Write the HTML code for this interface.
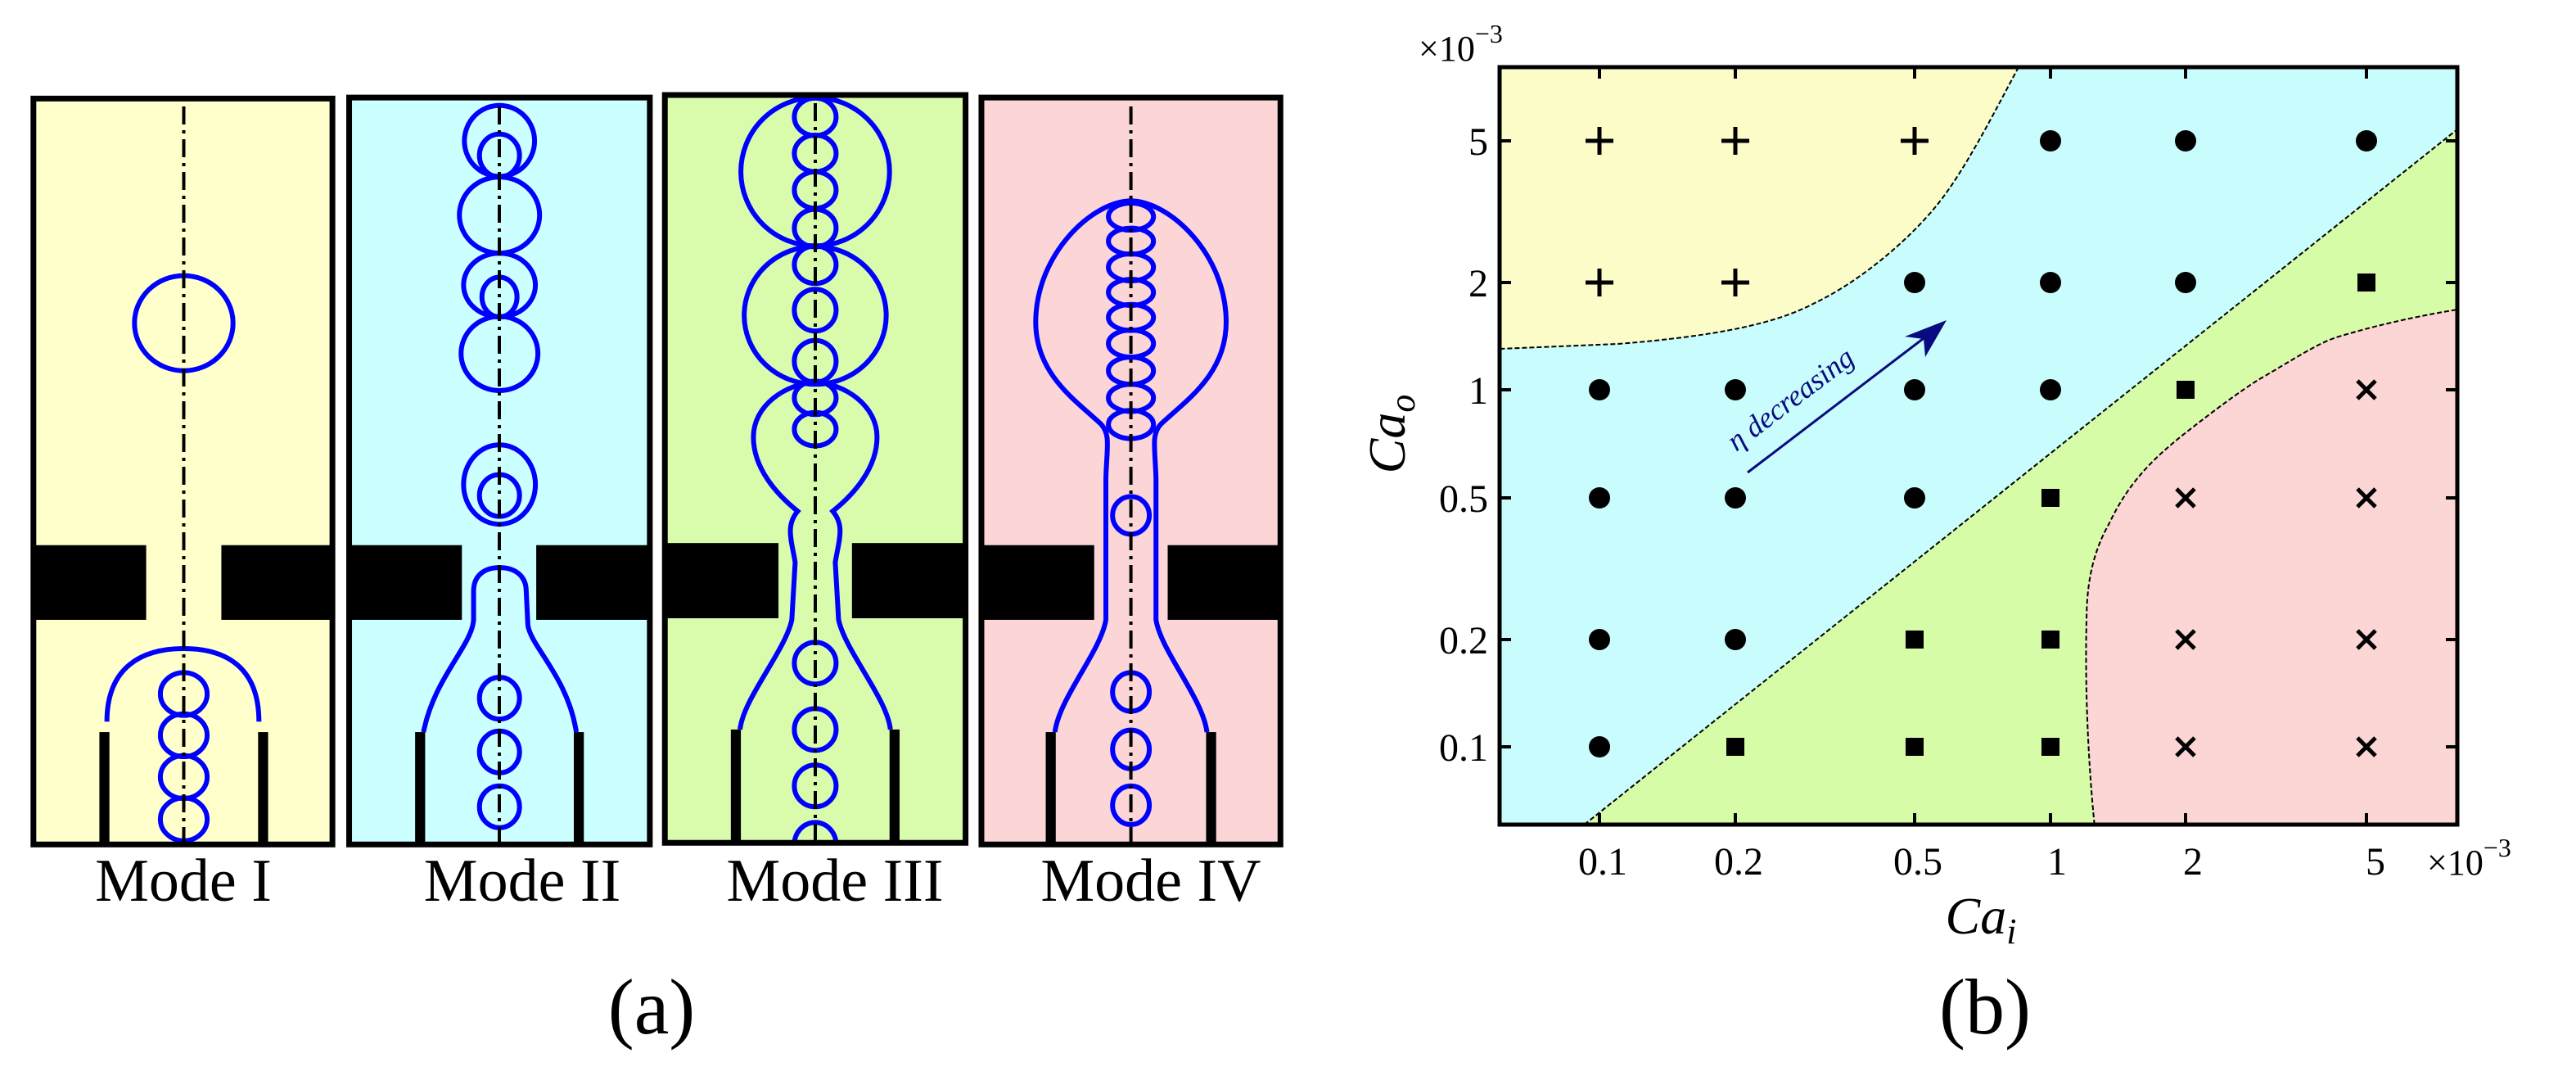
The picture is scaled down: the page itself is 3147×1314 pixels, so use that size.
<!DOCTYPE html>
<html><head><meta charset="utf-8"><style>
html,body{margin:0;padding:0;background:#fff;}
svg{display:block;}
text{font-family:"Liberation Serif",serif;}
</style></head><body>
<svg width="3147" height="1314" viewBox="0 0 3147 1314" xmlns="http://www.w3.org/2000/svg">
<defs>
<clipPath id="c3"><rect x="796" y="25" width="360" height="1435"/></clipPath>
</defs>
<g transform="translate(0,100) scale(1.0204,0.6378)">
  <rect x="40" y="32" width="358" height="1428" fill="#ffffcc"/>
  <rect x="418" y="30" width="360" height="1430" fill="#ccffff"/>
  <rect x="796" y="25" width="360" height="1432" fill="#d8fcab"/>
  <rect x="1175" y="30" width="358" height="1430" fill="#fcd6d6"/>
  <g fill="#000">
    <rect x="40" y="887" width="135" height="143"/><rect x="265" y="887" width="133" height="143"/>
    <rect x="418" y="887" width="135" height="143"/><rect x="642" y="887" width="136" height="143"/>
    <rect x="796" y="883" width="136" height="144"/><rect x="1020" y="883" width="136" height="144"/>
    <rect x="1175" y="887" width="135" height="143"/><rect x="1398" y="887" width="135" height="143"/>
    <rect x="119" y="1245" width="12" height="215"/><rect x="309" y="1245" width="12" height="215"/>
    <rect x="497" y="1245" width="12" height="215"/><rect x="687" y="1245" width="12" height="215"/>
    <rect x="875" y="1240" width="12" height="217"/><rect x="1065" y="1240" width="12" height="217"/>
    <rect x="1252" y="1245" width="12" height="215"/><rect x="1444" y="1245" width="12" height="215"/>
  </g>
  <g fill="none" stroke="#0000ff" stroke-width="6">
    <ellipse cx="220" cy="462" rx="59" ry="91" vector-effect="non-scaling-stroke"/>
    <path d="M128,1225 C128,1120 170,1085 220,1085 C270,1085 310,1120 310,1225" vector-effect="non-scaling-stroke"/>
    <ellipse cx="220" cy="1172" rx="28" ry="41" vector-effect="non-scaling-stroke"/>
    <ellipse cx="220" cy="1251" rx="28" ry="41" vector-effect="non-scaling-stroke"/>
    <ellipse cx="220" cy="1331" rx="28" ry="41" vector-effect="non-scaling-stroke"/>
    <ellipse cx="220" cy="1412" rx="28" ry="41" vector-effect="non-scaling-stroke"/>
    <ellipse cx="598" cy="113" rx="42" ry="68" vector-effect="non-scaling-stroke"/>
    <ellipse cx="598" cy="141" rx="24" ry="41" vector-effect="non-scaling-stroke"/>
    <ellipse cx="598" cy="255" rx="48" ry="73" vector-effect="non-scaling-stroke"/>
    <ellipse cx="598" cy="389" rx="43" ry="61" vector-effect="non-scaling-stroke"/>
    <ellipse cx="598" cy="412" rx="21" ry="38" vector-effect="non-scaling-stroke"/>
    <ellipse cx="598" cy="520" rx="46" ry="71" vector-effect="non-scaling-stroke"/>
    <ellipse cx="598" cy="771" rx="43" ry="76" vector-effect="non-scaling-stroke"/>
    <ellipse cx="598" cy="792" rx="24" ry="40" vector-effect="non-scaling-stroke"/>
    <ellipse cx="598" cy="1180" rx="24" ry="40" vector-effect="non-scaling-stroke"/>
    <ellipse cx="598" cy="1283" rx="24" ry="40" vector-effect="non-scaling-stroke"/>
    <ellipse cx="598" cy="1388" rx="24" ry="40" vector-effect="non-scaling-stroke"/>
    <path d="M507,1245 C520,1140 565,1080 567,1030 L567,975 C567,945 580,930 598,930 C616,930 630,945 630,975 L632,1040 C635,1080 680,1140 690,1245" vector-effect="non-scaling-stroke"/>
    <g clip-path="url(#c3)">
    <ellipse cx="976" cy="172" rx="89" ry="142" vector-effect="non-scaling-stroke"/>
    <ellipse cx="976" cy="447" rx="85" ry="132" vector-effect="non-scaling-stroke"/>
    <ellipse cx="976" cy="67" rx="25" ry="36" vector-effect="non-scaling-stroke"/>
    <ellipse cx="976" cy="137" rx="25" ry="35" vector-effect="non-scaling-stroke"/>
    <ellipse cx="976" cy="207" rx="25" ry="35" vector-effect="non-scaling-stroke"/>
    <ellipse cx="976" cy="280" rx="25" ry="36" vector-effect="non-scaling-stroke"/>
    <ellipse cx="976" cy="350" rx="25" ry="36" vector-effect="non-scaling-stroke"/>
    <ellipse cx="976" cy="437" rx="25" ry="40" vector-effect="non-scaling-stroke"/>
    <ellipse cx="976" cy="535" rx="25" ry="40" vector-effect="non-scaling-stroke"/>
    <ellipse cx="976" cy="605" rx="25" ry="32" vector-effect="non-scaling-stroke"/>
    <ellipse cx="976" cy="665" rx="25" ry="32" vector-effect="non-scaling-stroke"/>
    <ellipse cx="976" cy="1113" rx="25" ry="40" vector-effect="non-scaling-stroke"/>
    <ellipse cx="976" cy="1240" rx="25" ry="40" vector-effect="non-scaling-stroke"/>
    <ellipse cx="976" cy="1348" rx="25" ry="40" vector-effect="non-scaling-stroke"/>
    <ellipse cx="976" cy="1460" rx="25" ry="42" vector-effect="non-scaling-stroke"/>
    </g>
    <path d="M886,1240 C890,1180 940,1090 948,1030 L952,920 C948,880 940,850 955,822 C930,790 902,740 902,680 C902,620 940,578 976,575 C1012,578 1050,620 1050,680 C1050,740 1022,790 997,822 C1012,850 1004,880 1000,920 L1004,1030 C1012,1090 1062,1180 1066,1240" vector-effect="non-scaling-stroke"/>
    <path d="M1263,1245 C1268,1180 1318,1090 1324,1030 L1324,760 C1325,700 1330,675 1318,655 C1288,610 1240,560 1240,460 C1240,330 1308,228 1354,228 C1400,228 1468,330 1468,460 C1468,560 1420,610 1390,655 C1378,675 1383,700 1384,760 L1384,1030 C1390,1090 1440,1180 1445,1245" vector-effect="non-scaling-stroke"/>
    <ellipse cx="1354" cy="258" rx="27" ry="26" vector-effect="non-scaling-stroke"/>
    <ellipse cx="1354" cy="305" rx="27" ry="25" vector-effect="non-scaling-stroke"/>
    <ellipse cx="1354" cy="355" rx="27" ry="26" vector-effect="non-scaling-stroke"/>
    <ellipse cx="1354" cy="403" rx="27" ry="25" vector-effect="non-scaling-stroke"/>
    <ellipse cx="1354" cy="451" rx="27" ry="25" vector-effect="non-scaling-stroke"/>
    <ellipse cx="1354" cy="501" rx="27" ry="26" vector-effect="non-scaling-stroke"/>
    <ellipse cx="1354" cy="553" rx="27" ry="26" vector-effect="non-scaling-stroke"/>
    <ellipse cx="1354" cy="605" rx="27" ry="26" vector-effect="non-scaling-stroke"/>
    <ellipse cx="1354" cy="656" rx="27" ry="27" vector-effect="non-scaling-stroke"/>
    <ellipse cx="1354" cy="830" rx="22" ry="36" vector-effect="non-scaling-stroke"/>
    <ellipse cx="1354" cy="1168" rx="22" ry="37" vector-effect="non-scaling-stroke"/>
    <ellipse cx="1354" cy="1278" rx="22" ry="37" vector-effect="non-scaling-stroke"/>
    <ellipse cx="1354" cy="1385" rx="22" ry="37" vector-effect="non-scaling-stroke"/>
  </g>
  <g fill="none" stroke="#000" stroke-width="7">
    <rect x="40" y="32" width="358" height="1428" vector-effect="non-scaling-stroke"/>
    <rect x="418" y="30" width="360" height="1430" vector-effect="non-scaling-stroke"/>
    <rect x="796" y="25" width="360" height="1432" vector-effect="non-scaling-stroke"/>
    <rect x="1175" y="30" width="358" height="1430" vector-effect="non-scaling-stroke"/>
  </g>
</g>
<g stroke="#000" stroke-width="4" stroke-dasharray="22 7 4 7" fill="none">
  <line x1="224.5" y1="130" x2="224.5" y2="1028"/>
  <line x1="610" y1="130" x2="610" y2="1028"/>
  <line x1="996" y1="126" x2="996" y2="1026"/>
  <line x1="1381.6" y1="130" x2="1381.6" y2="1028"/>
</g>
<g font-size="74" text-anchor="middle" fill="#000">
  <text x="224" y="1100">Mode I</text>
  <text x="638" y="1100">Mode II</text>
  <text x="1020" y="1100">Mode III</text>
  <text x="1406" y="1100">Mode IV</text>
</g>
<text x="796" y="1262" font-size="96" text-anchor="middle">(a)</text>

<rect x="1832" y="82" width="1170" height="925" fill="#c9fcfc"/>
<path d="M1832,82 L2466,82 C2440,130 2400,210 2365,252 C2330,295 2270,345 2217,370 C2170,395 2100,410 1977,420 L1832,426 Z" fill="#fcfcc8"/>
<path d="M1935.5,1007 L3002,158 L3002,1007 Z" fill="#d6fca8"/>
<path d="M2558.7,1007 C2552,940 2546,840 2549.5,739.5 C2552,690 2565,660 2577,638.7 C2600,590 2630,560 2669.5,529 C2700,505 2740,475 2762,462 C2800,440 2830,420 2854,412 C2910,395 2960,385 3002,378 L3002,1007 Z" fill="#fcd5d5"/>
<g fill="none" stroke="#000" stroke-width="2" stroke-dasharray="6 3">
  <path d="M2466,82 C2440,130 2400,210 2365,252 C2330,295 2270,345 2217,370 C2170,395 2100,410 1977,420 L1832,426"/>
  <path d="M1935.5,1007 L3002,158"/>
  <path d="M2558.7,1007 C2552,940 2546,840 2549.5,739.5 C2552,690 2565,660 2577,638.7 C2600,590 2630,560 2669.5,529 C2700,505 2740,475 2762,462 C2800,440 2830,420 2854,412 C2910,395 2960,385 3002,378"/>
</g>
<g stroke="#000" stroke-width="4">
  <line x1="1954" y1="82" x2="1954" y2="96"/><line x1="2120" y1="82" x2="2120" y2="96"/><line x1="2339" y1="82" x2="2339" y2="96"/><line x1="2505" y1="82" x2="2505" y2="96"/><line x1="2670" y1="82" x2="2670" y2="96"/><line x1="2891" y1="82" x2="2891" y2="96"/>
  <line x1="1954" y1="1007" x2="1954" y2="993"/><line x1="2120" y1="1007" x2="2120" y2="993"/><line x1="2339" y1="1007" x2="2339" y2="993"/><line x1="2505" y1="1007" x2="2505" y2="993"/><line x1="2670" y1="1007" x2="2670" y2="993"/><line x1="2891" y1="1007" x2="2891" y2="993"/>
  <line x1="1832" y1="172" x2="1846" y2="172"/><line x1="1832" y1="345" x2="1846" y2="345"/><line x1="1832" y1="476" x2="1846" y2="476"/><line x1="1832" y1="608" x2="1846" y2="608"/><line x1="1832" y1="781" x2="1846" y2="781"/><line x1="1832" y1="912" x2="1846" y2="912"/>
  <line x1="3002" y1="172" x2="2988" y2="172"/><line x1="3002" y1="345" x2="2988" y2="345"/><line x1="3002" y1="476" x2="2988" y2="476"/><line x1="3002" y1="608" x2="2988" y2="608"/><line x1="3002" y1="781" x2="2988" y2="781"/><line x1="3002" y1="912" x2="2988" y2="912"/>
</g>
<rect x="1832" y="82" width="1170" height="925" fill="none" stroke="#000" stroke-width="5"/>
<g stroke="#000" stroke-width="5" fill="none">
  <path d="M1937,172h34M1954,155v34 M2103,172h34M2120,155v34 M2322,172h34M2339,155v34 M1937,345h34M1954,328v34 M2103,345h34M2120,328v34"/>
  <path d="M2880,465l22,22M2902,465l-22,22 M2659,597l22,22M2681,597l-22,22 M2880,597l22,22M2902,597l-22,22 M2659,770l22,22M2681,770l-22,22 M2880,770l22,22M2902,770l-22,22 M2659,901l22,22M2681,901l-22,22 M2880,901l22,22M2902,901l-22,22"/>
</g>
<g fill="#000">
  <ellipse cx="2505" cy="172" rx="13" ry="13"/><ellipse cx="2670" cy="172" rx="13" ry="13"/><ellipse cx="2891" cy="172" rx="13" ry="13"/>
  <ellipse cx="2339" cy="345" rx="13" ry="13"/><ellipse cx="2505" cy="345" rx="13" ry="13"/><ellipse cx="2670" cy="345" rx="13" ry="13"/>
  <rect x="2880" y="334" width="22" height="22"/>
  <ellipse cx="1954" cy="476" rx="13" ry="13"/><ellipse cx="2120" cy="476" rx="13" ry="13"/><ellipse cx="2339" cy="476" rx="13" ry="13"/><ellipse cx="2505" cy="476" rx="13" ry="13"/>
  <rect x="2659" y="465" width="22" height="22"/>
  <ellipse cx="1954" cy="608" rx="13" ry="13"/><ellipse cx="2120" cy="608" rx="13" ry="13"/><ellipse cx="2339" cy="608" rx="13" ry="13"/>
  <rect x="2494" y="597" width="22" height="22"/>
  <ellipse cx="1954" cy="781" rx="13" ry="13"/><ellipse cx="2120" cy="781" rx="13" ry="13"/>
  <rect x="2328" y="770" width="22" height="22"/><rect x="2494" y="770" width="22" height="22"/>
  <ellipse cx="1954" cy="912" rx="13" ry="13"/>
  <rect x="2109" y="901" width="22" height="22"/><rect x="2328" y="901" width="22" height="22"/><rect x="2494" y="901" width="22" height="22"/>
</g>
<line x1="2135" y1="577" x2="2362" y2="404" stroke="#0a0a80" stroke-width="3"/>
<path d="M2378,391 L2327,411 L2350,414 L2352,436 Z" fill="#0a0a80"/>
<text x="0" y="0" font-size="36" font-style="italic" fill="#0a0a80" transform="translate(2121,552) rotate(-37)">η decreasing</text>
<g font-size="48" fill="#000">
  <g text-anchor="end">
    <text x="1818" y="189">5</text><text x="1818" y="362">2</text><text x="1818" y="493">1</text>
    <text x="1818" y="625">0.5</text><text x="1818" y="798">0.2</text><text x="1818" y="929">0.1</text>
  </g>
  <g text-anchor="middle">
    <text x="1958" y="1068">0.1</text><text x="2124" y="1068">0.2</text><text x="2343" y="1068">0.5</text>
    <text x="2513" y="1068">1</text><text x="2679" y="1068">2</text><text x="2902" y="1068">5</text>
  </g>
  <text x="2965" y="1068" font-size="44">×10<tspan dy="-22" font-size="32">−3</tspan></text>
  <text x="1733" y="74" font-size="44">×10<tspan dy="-22" font-size="32">−3</tspan></text>
</g>
<text x="2420" y="1140" font-size="64" font-style="italic" text-anchor="middle">Ca<tspan dy="12" font-size="44">i</tspan></text>
<text transform="translate(1716,530) rotate(-90)" font-size="64" font-style="italic" text-anchor="middle">Ca<tspan dy="12" font-size="44">o</tspan></text>
<text x="2425" y="1262" font-size="96" text-anchor="middle">(b)</text>
</svg>
</body></html>
